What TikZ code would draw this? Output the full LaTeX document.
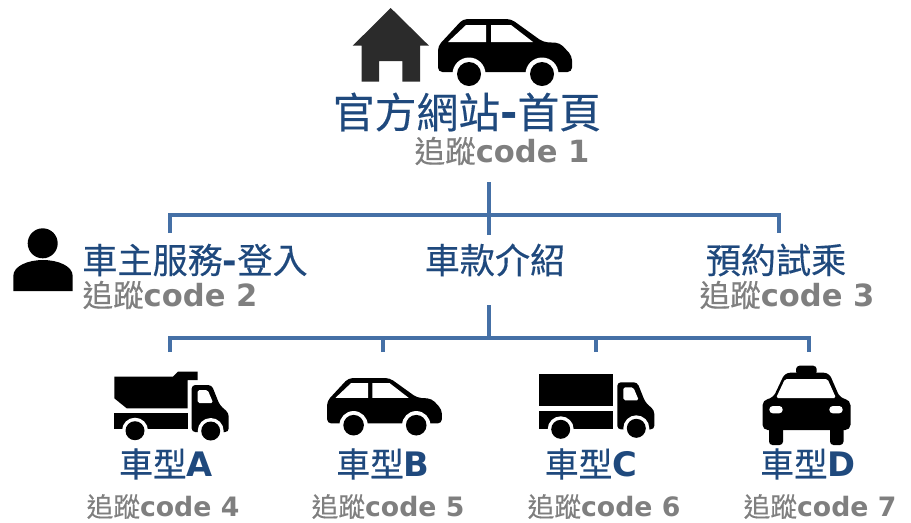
\documentclass[tikz,border=0pt]{standalone}
\usepackage{fontspec}
\setmainfont{DejaVu Sans}
\newfontfamily\cjk[FakeBold=0.35]{Noto Sans CJK TC}
\usetikzlibrary{positioning}
\definecolor{pageBlue}{HTML}{1F497D}
\definecolor{codeGray}{HTML}{7F7F7F}
\definecolor{branchBlue}{HTML}{4570A6}
\definecolor{homeGray}{HTML}{2B2B2B}
\newcommand{\zh}[1]{{\cjk\mdseries #1}}
\tikzset{%
  titleText/.style={text=pageBlue, inner sep=0pt, font=\fontsize{23.8}{26}\selectfont\bfseries},
  menuText/.style={text=pageBlue, inner sep=0pt, font=\fontsize{20}{22}\selectfont\bfseries},
  typeText/.style={text=pageBlue, inner sep=0pt, font=\fontsize{19.2}{22}\selectfont\bfseries},
  codeText/.style={text=codeGray, inner sep=0pt, font=\fontsize{17.4}{20}\selectfont\bfseries},
  smallCodeText/.style={text=codeGray, inner sep=0pt, font=\fontsize{15.2}{18}\selectfont\bfseries},
  branch/.style={draw=branchBlue, line width=1.9pt},
  % ---
  % icons
  % ---
  wheelIcon/.pic={
    \fill[white] (0,0) circle (13);
    \fill[black] (0,0) circle (9.5);
  },
  carIcon/.pic={
    \fill[black, rounded corners=2.5pt] (0,27) -- (25,0) -- (73,0) -- (105,23) -- (122,24) -- (134,37) -- (134,53) -- (0,53) -- cycle;
    \fill[white] (10,23) -- (28,6) -- (48,6) -- (48,23) -- cycle;
    \fill[white] (53,6) -- (73,6) -- (95,23) -- (53,23) -- cycle;
    \fill[white] (31,55) circle (16.5);
    \fill[white] (104,55) circle (16.5);
    \fill[black] (31,55) circle (12);
    \fill[black] (104,55) circle (12);
  },
  cabIcon/.pic={
    \fill[black, rounded corners=2pt] (0,0) -- (20,0) -- (28,20) -- (37,28) -- (37,47) -- (0,47) -- cycle;
    \fill[white, rounded corners=1pt] (6,5) -- (16,5) -- (21.5,18) -- (6,18) -- cycle;
    \pic at (19,46) {wheelIcon};
  },
}

\begin{document}
\begin{tikzpicture}[x=0.02cm,y=-0.02cm]
        \useasboundingbox (0,0) rectangle (911,522);

        %Icons
        \fill[homeGray] (390.7,8) -- (429,45.7) -- (420,45.7) -- (420,81.7) -- (402.3,81.7) -- (402.3,61) -- (379,61) -- (379,81.7) -- (361.7,81.7) -- (361.7,45.7) -- (352.7,45.7) -- cycle;
        \pic (carTop) at (438,19) {carIcon};
        \pic[scale=.858] (carB) at (327,378) {carIcon};

        \fill[black] (42.7,243.3) circle (15);
        \fill[black] (13.3,291) -- (13.3,276) .. controls (13.3,266) and (28,260) .. (43,260) .. controls (58,260) and (72.7,266) .. (72.7,276) -- (72.7,291) -- cycle;

        % dump truck
        \fill[black] (114.3,376.7) -- (173,376.7) -- (178,371.7) -- (197.7,371.7) -- (197.7,380) -- (187.7,380) -- (187.7,408.3) -- (126.7,408.3) -- (114.3,398.3) -- cycle;
        \fill[black] (114.3,413.3) rectangle (187.7,429);
        \pic (cabA) at (191.7,385) {cabIcon};
        \pic (wheelA) at (135,430.7) {wheelIcon};

        % box truck
        \fill[black] (539.3,374.3) rectangle (613.3,406);
        \fill[black] (539.3,411) rectangle (613.3,429.3);
        \pic (cabC) at (617.3,382.3) {cabIcon};
        \pic (wheelC) at (560.7,429.3) {wheelIcon};

        % taxi
        \fill[black, rounded corners=2pt] (796,365.7) rectangle (816.7,375);
        \fill[black, rounded corners=3pt] (785,372.7) -- (829,372.7) -- (840,398) -- (850.5,400) -- (850.5,430) -- (762.5,430) -- (762.5,400) -- (773,398) -- cycle;
        \fill[black, rounded corners=2pt] (769,425) rectangle (783,445);
        \fill[black, rounded corners=2pt] (830,425) rectangle (843.5,445);
        \fill[white, rounded corners=1pt] (785,379) -- (827.5,379) -- (836,398) -- (776,398) -- cycle;
        \fill[white, rounded corners=2pt] (769.3,406) rectangle (782.7,413.3);
        \fill[white, rounded corners=2pt] (829.3,406) rectangle (842.7,413.3);

        %Nodes
        \node[titleText] (home) at (467,112) {\zh{官方網站}-\zh{首頁}};
        \node[codeText] (code1) at (502,151) {\zh{追蹤}code 1};

        \node[menuText] (owner) at (195,260) {\zh{車主服務}-\zh{登入}};
        \node[codeText] (code2) at (170,295) {\zh{追蹤}code 2};
        \node[menuText] (models) at (495,260) {\zh{車款介紹}};
        \node[menuText] (booking) at (776,260) {\zh{預約試乘}};
        \node[codeText] (code3) at (787,295) {\zh{追蹤}code 3};

        \node[typeText] (typeA) at (166,464) {\zh{車型}A};
        \node[typeText] (typeB) at (383,464) {\zh{車型}B};
        \node[typeText] (typeC) at (591,464) {\zh{車型}C};
        \node[typeText] (typeD) at (808,464) {\zh{車型}D};

        \node[smallCodeText] (code4) at (163,506.5) {\zh{追蹤}code 4};
        \node[smallCodeText] (code5) at (388,506.5) {\zh{追蹤}code 5};
        \node[smallCodeText] (code6) at (604,506.5) {\zh{追蹤}code 6};
        \node[smallCodeText] (code7) at (820,506.5) {\zh{追蹤}code 7};

        %Line ends
        \coordinate (homeOut) at (489,182);
        \coordinate (homeHub) at (489,215);
        \coordinate (ownerIn) at (170,233);
        \coordinate (modelsIn) at (489,235);
        \coordinate (bookingIn) at (779,233);
        \coordinate (modelsOut) at (489,305);
        \coordinate (modelsHub) at (489,338);
        \coordinate (inA) at (170,352);
        \coordinate (inB) at (383,352);
        \coordinate (inC) at (596,352);
        \coordinate (inD) at (809,352);

        %Lines
        \draw[branch] (homeOut) -- (modelsIn);
        \draw[branch] (ownerIn) |- (homeHub);
        \draw[branch] (bookingIn) |- (homeHub);
        \draw[branch] (modelsOut) -- (modelsHub);
        \draw[branch] (inA) |- (modelsHub);
        \draw[branch] (inB) |- (modelsHub);
        \draw[branch] (inC) |- (modelsHub);
        \draw[branch] (inD) |- (modelsHub);
    \end{tikzpicture}
\end{document}
